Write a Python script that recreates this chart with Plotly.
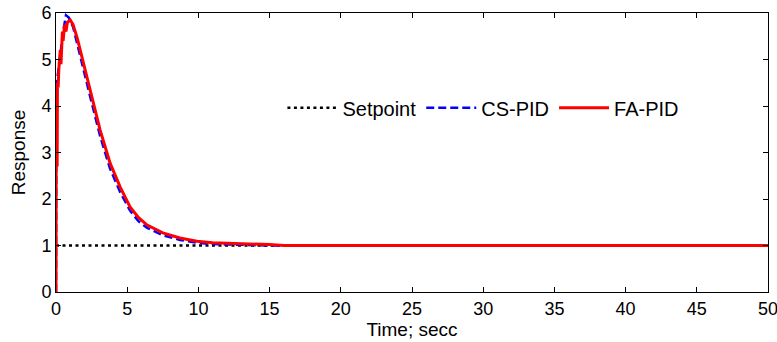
import plotly.graph_objects as go

# Time samples (s) and responses
t_fa = [0, 0.02, 0.04, 0.06, 0.08, 0.1, 0.15, 0.2, 0.3, 0.35, 0.45, 0.5, 0.6, 0.7, 0.8,
        1.0, 1.2, 1.5, 1.7, 2.0, 2.4, 3.1, 3.8, 4.5, 5.2, 5.8, 6.4, 7.5, 8.7, 9.9,
        11.0, 12.2, 13.5, 15.0, 16.0, 20, 30, 40, 50]
fa_pid = [0, 4.5, 2.6, 4.3, 2.7, 4.5, 4.4, 4.8, 5.2, 4.9, 5.6, 5.4, 5.75, 5.6, 5.8,
          5.85, 5.75, 5.45, 5.2, 4.8, 4.34, 3.48, 2.77, 2.26, 1.83, 1.60, 1.44, 1.27, 1.16, 1.09,
          1.06, 1.05, 1.03, 1.02, 1.0, 1.0, 1.0, 1.0, 1.0]

t_cs = [0, 0.02, 0.1, 0.25, 0.3, 0.5, 0.7, 0.9, 1.2, 1.5, 2.0, 2.4, 3.1, 3.8, 4.5,
        5.2, 5.8, 6.4, 7.5, 8.7, 9.9, 11.0, 12.2, 13.5, 15.0, 20, 30, 40, 50]
cs_pid = [0, 4.5, 4.6, 5.0, 5.1, 5.6, 5.95, 5.9, 5.7, 5.3, 4.7, 4.2, 3.35, 2.65, 2.15,
          1.75, 1.52, 1.38, 1.22, 1.12, 1.06, 1.03, 1.02, 1.01, 1.0, 1.0, 1.0, 1.0, 1.0]

t_sp = [0, 50]
setpoint = [1, 1]

x_ticks = [0, 5, 10, 15, 20, 25, 30, 35, 40, 45, 50]
y_ticks = [0, 1, 2, 3, 4, 5, 6]

FAM = "Liberation Sans, Arial, sans-serif"
tick_font = dict(family=FAM, size=18, color="black")
title_font = dict(family=FAM, size=19, color="black")
legend_font = dict(family=FAM, size=20, color="black")

fig = go.Figure()
fig.add_trace(go.Scatter(x=t_sp, y=setpoint, mode="lines", name="Setpoint",
                         line=dict(color="black", width=2.5, dash="3px,3.5px")))
fig.add_trace(go.Scatter(x=t_cs, y=cs_pid, mode="lines", name="CS-PID",
                         line=dict(color="#0000ff", width=2.5, dash="8px,4px")))
fig.add_trace(go.Scatter(x=t_fa, y=fa_pid, mode="lines", name="FA-PID",
                         line=dict(color="#ff0000", width=3)))

axis_common = dict(showgrid=False, zeroline=False, showline=True, linecolor="black",
                   linewidth=1, mirror="ticks", ticks="inside", ticklen=5,
                   tickcolor="black", tickfont=tick_font, automargin=False,
                   ticklabeloverflow="allow")

fig.update_layout(
    width=777, height=342,
    margin=dict(l=56, r=9, t=13, b=50),
    paper_bgcolor="white", plot_bgcolor="white",
    font=tick_font,
    showlegend=True,
    legend=dict(orientation="h", x=0.318, y=0.66, xanchor="left", yanchor="middle",
                bgcolor="rgba(0,0,0,0)", font=legend_font, itemwidth=50),
    xaxis=dict(range=[0, 50], tickvals=x_ticks,
               title=dict(text="Time; secc", font=title_font, standoff=2), **axis_common),
    yaxis=dict(range=[0, 6], tickvals=y_ticks,
               title=dict(text="Response", font=title_font, standoff=10), **axis_common),
)

fig.write_html(
    "out.html",
    config={"displayModeBar": False},
    post_script="document.body.style.margin='0';document.body.style.overflow='hidden';",
)
